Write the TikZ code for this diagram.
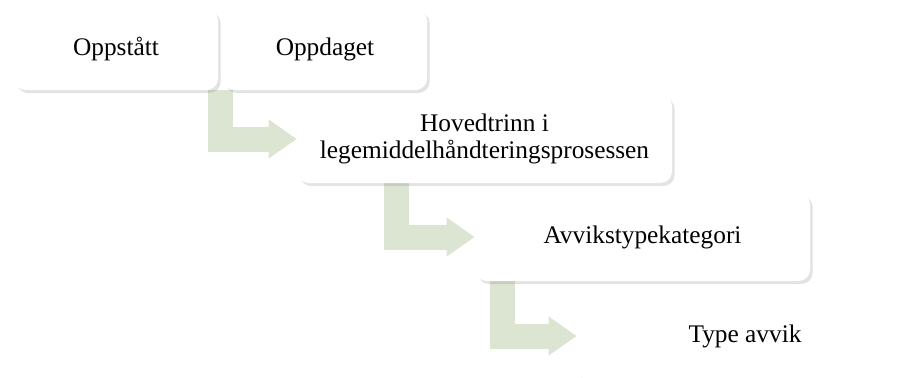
\documentclass[tikz,border=0pt]{standalone}
\usepackage{fontspec}
\setmainfont{Liberation Serif}
\usetikzlibrary{arrows.meta,shadows,backgrounds}
\definecolor{leafgreen}{HTML}{DCE5D1}
\tikzset{
    stage/.style args={#1/#2}{fill=white, rounded corners=8.5pt, minimum width=#1, minimum height=#2,
        align=center, font=\fontsize{19}{20.5}\selectfont,
        drop shadow={shadow xshift=2pt, shadow yshift=-2.25pt, opacity=0.22}},
    bendarrow/.style={leafgreen, line width=18.75pt, ->}
}

\begin{document}
\begin{tikzpicture}[x=0.75pt,y=-0.75pt,>={Triangle[length=21pt,width=27.75pt]}]
\useasboundingbox (0,0) rectangle (906,378);
% stages
\node[stage=153pt/60.75pt] (oppstatt) at (116,49.5) {Oppstått};
\node[stage=153pt/60.75pt] (oppdaget) at (325,49.5) {Oppdaget};
\node[stage=281.25pt/66pt] (hovedtrinn) at (484.5,139) {Hovedtrinn i\\legemiddelhåndteringsprosessen};
\node[stage=251.25pt/66pt] (kategori) at (642.5,237) {Avvikstypekategori};
\node[stage=252pt/66pt] (type) at (745,336) {Type avvik};
% bent arrows
\begin{scope}[on background layer]
\draw[bendarrow] ([xshift=1.5pt]oppstatt.south east) |- (hovedtrinn.west);
\draw[bendarrow] ([xshift=75pt]hovedtrinn.south west) |- (kategori.west);
\draw[bendarrow] ([xshift=20.6pt]kategori.south west) |- (type.west);
\end{scope}
\end{tikzpicture}
\end{document}
